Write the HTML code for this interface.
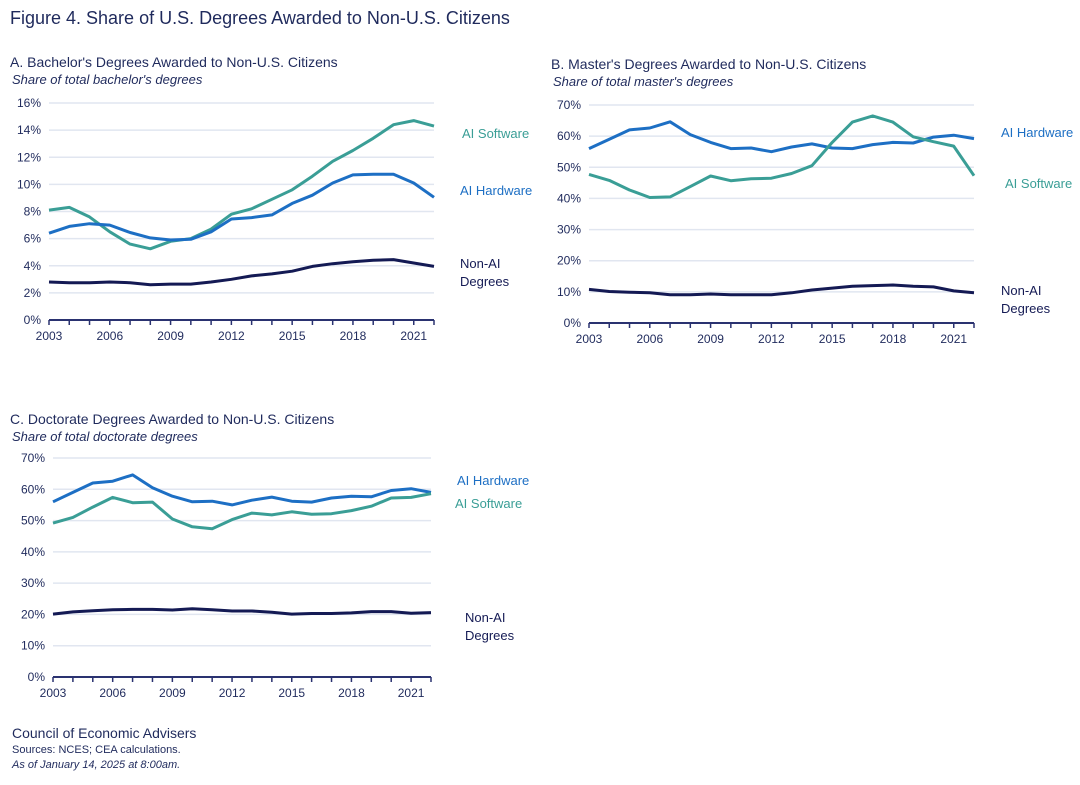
<!DOCTYPE html>
<html><head><meta charset="utf-8"><style>
body{margin:0;background:#fff;width:1080px;height:785px;overflow:hidden;font-family:"Liberation Sans",sans-serif;color:#1f2a5c}
svg{position:absolute;left:0;top:0}
</style></head><body>
<svg id="s" width="1080" height="785">
<text x="10" y="24" font-size="18" fill="#1f2a5c">Figure 4. Share of U.S. Degrees Awarded to Non-U.S. Citizens</text>
<text x="12" y="738" font-size="14" fill="#1f2a5c">Council of Economic Advisers</text>
<text x="12" y="753" font-size="11" fill="#1f2a5c">Sources: NCES; CEA calculations.</text>
<text x="12" y="768" font-size="11" font-style="italic" fill="#1f2a5c">As of January 14, 2025 at 8:00am.</text>
</svg>
<script>
const years=[2003,2004,2005,2006,2007,2008,2009,2010,2011,2012,2013,2014,2015,2016,2017,2018,2019,2020,2021,2022];
const xTickYears=[2003,2006,2009,2012,2015,2018,2021];
const aSoftware=[8.1,8.3,7.6,6.5,5.6,5.25,5.8,6.0,6.7,7.8,8.2,8.9,9.6,10.6,11.7,12.5,13.4,14.4,14.7,14.3];
const aHardware=[6.4,6.9,7.1,7.0,6.45,6.05,5.9,5.95,6.5,7.45,7.55,7.75,8.6,9.2,10.1,10.7,10.75,10.75,10.1,9.05];
const aNonAI=[2.8,2.75,2.75,2.8,2.75,2.6,2.65,2.65,2.8,3.0,3.25,3.4,3.6,3.95,4.15,4.3,4.4,4.45,4.2,3.95];
const aTicks=[0,2,4,6,8,10,12,14,16];
const bHardware=[56,59,62,62.6,64.6,60.5,58,56,56.2,55,56.5,57.5,56.2,56,57.3,58,57.8,59.7,60.3,59.2];
const bSoftware=[47.7,45.8,42.7,40.3,40.5,43.8,47.2,45.7,46.3,46.5,48,50.5,58,64.5,66.5,64.5,59.8,58.2,56.8,47.3];
const bNonAI=[10.8,10.1,9.9,9.7,9.1,9.1,9.3,9.1,9.1,9.1,9.7,10.6,11.2,11.8,12,12.2,11.8,11.6,10.3,9.7];
const bTicks=[0,10,20,30,40,50,60,70];
const cHardware=[56,59,62,62.6,64.6,60.5,57.8,56,56.2,55,56.5,57.5,56.2,55.9,57.2,57.8,57.6,59.6,60.2,59];
const cSoftware=[49.2,51,54.3,57.4,55.7,55.9,50.5,48,47.4,50.3,52.4,51.8,52.8,52,52.2,53.2,54.6,57.2,57.4,58.6];
const cNonAI=[20.1,20.8,21.2,21.5,21.6,21.6,21.4,21.8,21.5,21.1,21.1,20.7,20.1,20.3,20.3,20.5,20.9,20.9,20.4,20.6];
const cTicks=[0,10,20,30,40,50,60,70];

const S=document.getElementById('s');const NS='http://www.w3.org/2000/svg';
function mk(tag,attrs,parent,txt){const e=document.createElementNS(NS,tag);for(const k in attrs)e.setAttribute(k,attrs[k]);if(txt!==undefined)e.textContent=txt;(parent||S).appendChild(e);return e;}
const TEAL='#3a9e96',BLUE='#1d6fc4',NAVY='#141a54',TXT='#1f2a5c';

function panel(p){
  const g=mk('g',{});
  
  
  const x=v=>p.x0+(v-years[0])/(years[years.length-1]-years[0])*(p.x1-p.x0);
  const y=v=>p.y0-(v/p.max)*(p.y0-p.yTop);
  const t=mk('text',{x:p.tx,y:p.ty,'font-size':14,fill:TXT},g,p.title);
  
  
  const st=mk('text',{x:p.tx+2,y:p.ty+17,'font-size':13,'font-style':'italic',fill:TXT},g,p.sub);
  
  
  p.ticks.forEach(v=>{
    if(v>0){const gl=mk('line',{x1:p.x0,x2:p.x1,y1:y(v),y2:y(v),stroke:'#e1e6f0','stroke-width':1.5},g);
    
    }
    const tl=mk('text',{x:p.x0-8,y:y(v)+4,'font-size':12,fill:TXT,'text-anchor':'end'},g,v+'%');
    
    
  });
  const ax=mk('line',{x1:p.x0,x2:p.x1,y1:p.y0,y2:p.y0,stroke:'#2a3270','stroke-width':2},g);
  
  
  years.forEach(yr=>{const tk=mk('line',{x1:x(yr),x2:x(yr),y1:p.y0,y2:p.y0+5,stroke:'#2a3270','stroke-width':1.5},g);
    
    });
  xTickYears.forEach(yr=>{const tl=mk('text',{x:x(yr),y:p.y0+20,'font-size':12,fill:TXT,'text-anchor':'middle'},g,yr);
    
    });
  p.series.forEach(s=>{
    const d=s.vals.map((v,i)=>(i?'L':'M')+x(years[i]).toFixed(1)+','+y(v).toFixed(1)).join('');
    const pl=mk('path',{d:d,fill:'none',stroke:s.color,'stroke-width':3,'stroke-linejoin':'round'},g);
    
    
    s.label.forEach((ln,i)=>{const lt=mk('text',{x:s.lx,y:s.ly+i*18,'font-size':13,fill:s.color},g,ln);
      
      });
  });
}
panel({id:'panel-a-bachelors',title:"A. Bachelor's Degrees Awarded to Non-U.S. Citizens",sub:"Share of total bachelor's degrees",tx:10,ty:67,x0:49,x1:434,y0:320,yTop:103,max:16,ticks:aTicks,series:[
 {name:'ai-software',vals:aSoftware,color:TEAL,label:['AI Software'],lx:462,ly:138},
 {name:'ai-hardware',vals:aHardware,color:BLUE,label:['AI Hardware'],lx:460,ly:195},
 {name:'non-ai',vals:aNonAI,color:NAVY,label:['Non-AI','Degrees'],lx:460,ly:268}]});
panel({id:'panel-b-masters',title:"B. Master's Degrees Awarded to Non-U.S. Citizens",sub:"Share of total master's degrees",tx:551,ty:69,x0:589,x1:974,y0:323,yTop:105,max:70,ticks:bTicks,series:[
 {name:'ai-hardware',vals:bHardware,color:BLUE,label:['AI Hardware'],lx:1001,ly:137},
 {name:'ai-software',vals:bSoftware,color:TEAL,label:['AI Software'],lx:1005,ly:188},
 {name:'non-ai',vals:bNonAI,color:NAVY,label:['Non-AI','Degrees'],lx:1001,ly:295}]});
panel({id:'panel-c-doctorate',title:"C. Doctorate Degrees Awarded to Non-U.S. Citizens",sub:"Share of total doctorate degrees",tx:10,ty:424,x0:53,x1:431,y0:677,yTop:458,max:70,ticks:cTicks,series:[
 {name:'ai-hardware',vals:cHardware,color:BLUE,label:['AI Hardware'],lx:457,ly:485},
 {name:'ai-software',vals:cSoftware,color:TEAL,label:['AI Software'],lx:455,ly:508},
 {name:'non-ai',vals:cNonAI,color:NAVY,label:['Non-AI','Degrees'],lx:465,ly:622}]});
</script>
</body></html>
